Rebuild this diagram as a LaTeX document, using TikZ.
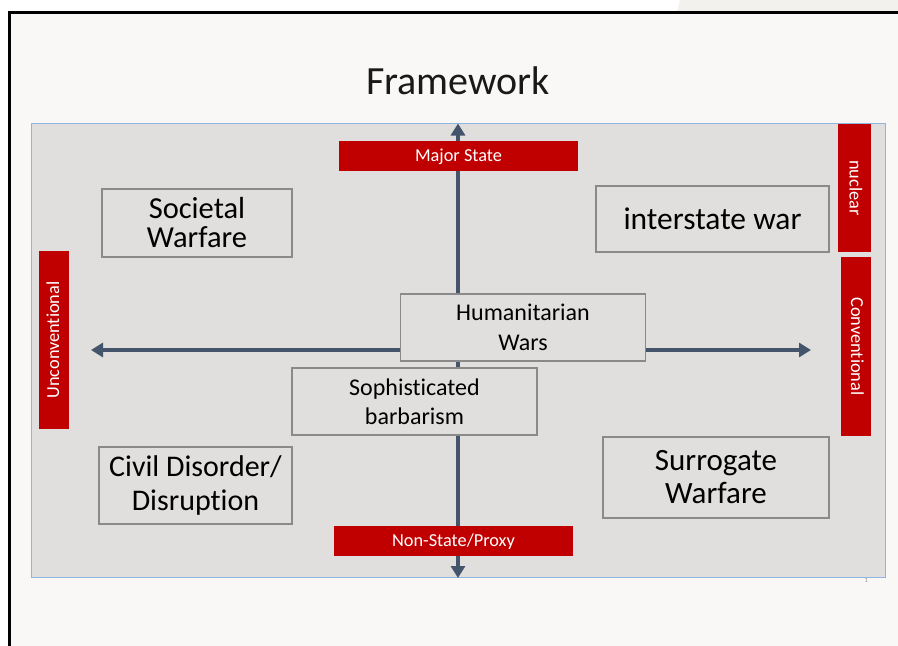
\documentclass[tikz,border=0pt]{standalone}
\usepackage{fontspec}
\setmainfont{Carlito}[Ligatures=NoCommon]
\usetikzlibrary{arrows.meta}
\definecolor{slidebg}{HTML}{F9F8F6}
\definecolor{cornerbg}{HTML}{F2F1EE}
\definecolor{panelfill}{HTML}{E0DFDE}
\definecolor{panelline}{HTML}{8EB4E0}
\definecolor{axiscol}{HTML}{44546A}
\definecolor{labred}{HTML}{C00000}
\definecolor{boxline}{HTML}{8A8A8A}
\tikzset{
  quadbox/.style={draw=boxline, line width=1.2pt, fill=panelfill, align=center, inner sep=0pt, text=black},
  redlab/.style={fill=labred, text=white, inner sep=0pt, text height=12pt, text depth=2pt, font=\fontsize{18.3}{19}\selectfont},
  axis/.style={draw=axiscol, line width=4pt, {Triangle[width=14pt,length=12pt]}-{Triangle[width=14pt,length=12pt]}},
}
\begin{document}
\begin{tikzpicture}[x=1pt,y=-1pt]
\useasboundingbox (0,0) rectangle (898,646);
\fill[white] (0,0) rectangle (898,646);
\fill[cornerbg] (680,0) -- (898,0) -- (898,12) -- (677,12) -- cycle;
\fill[slidebg] (9,12) rectangle (898,646);
\draw[black, line width=2.6pt] (9.5,646) -- (9.5,12.5) -- (898,12.5);
% title
\node[anchor=base, font=\fontsize{40}{42}\selectfont, text=black!90] (title) at (458,94) {Framework};
% page number (mostly hidden)
\node[font=\fontsize{7}{8}\selectfont, text=black!40] (pnum) at (866.5,580) {1};
% panel
\fill[panelfill, draw=panelline, line width=1.2pt] (31.3,123.5) rectangle (885.3,577.7);
% axis coordinates
\coordinate (top) at (458,123.5);
\coordinate (bottom) at (458,578);
\coordinate (left) at (91,350);
\coordinate (right) at (811,350);
\draw[axis] (bottom) -- (top);
\draw[axis] (left) -- (right);
% quadrant boxes
\node[quadbox, minimum width=190pt, minimum height=68pt, font=\fontsize{30.5}{29}\selectfont] (soc) at (197,223) {Societal\\Warfare};
\node[quadbox, minimum width=233pt, minimum height=66pt, font=\fontsize{31.5}{31}\selectfont] (inter) at (712.5,219) {interstate war};
\node[quadbox, minimum width=245pt, minimum height=67pt, font=\fontsize{24}{30}\selectfont] (hum) at (523,327.5) {Humanitarian\\Wars};
\node[quadbox, minimum width=245pt, minimum height=67pt, font=\fontsize{24}{29}\selectfont] (soph) at (414.5,401.5) {Sophisticated\\barbarism};
\node[quadbox, minimum width=193pt, minimum height=77pt, font=\fontsize{30}{34}\selectfont] (civ) at (195.5,485.5) {Civil Disorder/\\Disruption};
\node[quadbox, minimum width=226pt, minimum height=81pt, font=\fontsize{31}{33}\selectfont] (sur) at (716,477.5) {Surrogate\\Warfare};
% red labels
\node[redlab, minimum width=239pt, minimum height=30pt] (major) at (458.5,156) {Major State};
\node[redlab, minimum width=239pt, minimum height=30pt] (nonstate) at (453.5,541) {Non-State/Proxy};
\node[redlab, rotate=-90, minimum width=128pt, minimum height=33pt] (nuclear) at (854.5,188) {nuclear};
\node[redlab, rotate=-90, minimum width=179pt, minimum height=30pt] (conv) at (856,346.5) {Conventional};
\node[redlab, rotate=90, minimum width=178pt, minimum height=30pt] (uncon) at (54,340) {Unconventional};
\end{tikzpicture}
\end{document}
